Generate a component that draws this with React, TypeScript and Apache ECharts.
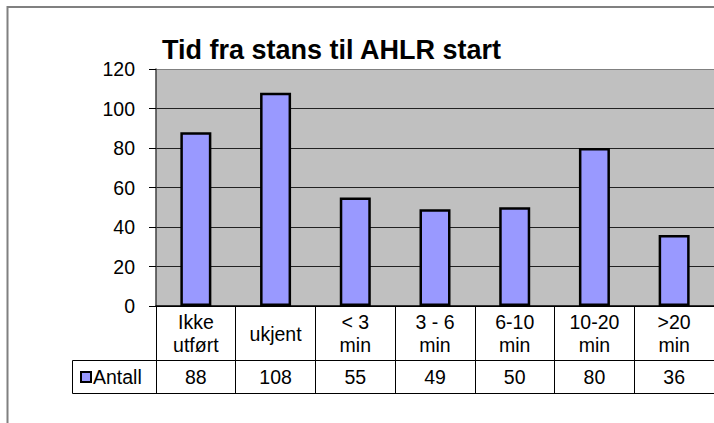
import React, { useEffect, useRef } from "react";
import * as echarts from "echarts";

const categories = ["Ikke\nutført", "ukjent", "< 3\nmin", "3 - 6\nmin", "6-10\nmin", "10-20\nmin", ">20\nmin"];
const values = [88, 108, 55, 49, 50, 80, 36];
const seriesName = "Antall";
const chartTitle = "Tid fra stans til AHLR start";
const yMin = 0;
const yMax = 120;
const yStep = 20;

const FONT = "'Liberation Sans', Arial, sans-serif";

export default function App() {
  const ref = useRef<HTMLDivElement>(null);
  useEffect(() => {
    if (!ref.current) return;
    const chart = echarts.init(ref.current, null, { renderer: "svg" });
    chart.setOption({
      animation: false,
      backgroundColor: "#ffffff",
      textStyle: { fontFamily: FONT },
      title: {
        text: chartTitle,
        left: 162,
        top: 36,
        padding: 0,
        textStyle: { fontFamily: FONT, fontSize: 27, fontWeight: "bold", color: "#000" },
      },
      legend: {
        data: [seriesName],
        left: 80,
        top: 367,
        padding: 0,
        itemWidth: 10,
        itemHeight: 10,
        icon: "rect",
        itemStyle: { color: "#9999FF", borderColor: "#000", borderWidth: 2 },
        textStyle: { fontFamily: FONT, fontSize: 19.5, color: "#000", padding: [0, 0, 0, -3] },
      },
      grid: {
        left: 156,
        top: 69,
        width: 565,
        height: 237,
        show: true,
        backgroundColor: "#C0C0C0",
        borderWidth: 0,
      },
      xAxis: [
        {
          type: "category",
          data: categories,
          position: "bottom",
          axisLine: { show: true, lineStyle: { color: "#000", width: 1.5 } },
          axisTick: { show: true, length: 87, lineStyle: { color: "#000", width: 1 } },
          axisLabel: {
            fontFamily: FONT,
            fontSize: 19.5,
            lineHeight: 23,
            color: "#000",
            margin: 27.5,
            verticalAlign: "middle",
            interval: 0,
          },
          splitLine: { show: false },
        },
        {
          type: "category",
          data: values.map(String),
          position: "bottom",
          offset: 55,
          axisLine: { show: false },
          axisTick: { show: false },
          axisLabel: {
            fontFamily: FONT,
            fontSize: 19.5,
            color: "#000",
            margin: 16,
            verticalAlign: "middle",
            interval: 0,
          },
          splitLine: { show: false },
        },
      ],
      yAxis: {
        type: "value",
        min: yMin,
        max: yMax,
        interval: yStep,
        axisLine: { show: true, lineStyle: { color: "#404040", width: 1.5 } },
        axisTick: { show: true, length: 7, lineStyle: { color: "#000", width: 1 } },
        axisLabel: { fontFamily: FONT, fontSize: 19.5, color: "#000", margin: 21 },
        splitLine: {
          show: true,
          lineStyle: { color: ["#000", "#222", "#222", "#222", "#222", "#222", "#808080"], width: 1 },
        },
      },
      series: [
        {
          name: seriesName,
          type: "bar",
          data: values,
          barWidth: 31,
          itemStyle: { color: "#9999FF", borderColor: "#000", borderWidth: 2.5 },
        },
      ],
      graphic: [
        {
          type: "rect",
          shape: { x: 7.5, y: 7, width: 900, height: 900 },
          style: { fill: "none", stroke: "#808080", lineWidth: 2 },
          silent: true,
        },
        {
          type: "line",
          shape: { x1: 72.5, y1: 360.5, x2: 730, y2: 360.5 },
          style: { stroke: "#000", lineWidth: 1 },
          silent: true,
        },
        {
          type: "line",
          shape: { x1: 72.5, y1: 393.5, x2: 730, y2: 393.5 },
          style: { stroke: "#000", lineWidth: 1 },
          silent: true,
        },
        {
          type: "line",
          shape: { x1: 72.5, y1: 360.5, x2: 72.5, y2: 393.5 },
          style: { stroke: "#000", lineWidth: 1 },
          silent: true,
        },
      ],
    });
    return () => chart.dispose();
  }, []);
  return (
    <div
      ref={ref}
      style={{ position: "fixed", left: 0, top: 0, width: 714, height: 423, overflow: "hidden" }}
    />
  );
}
